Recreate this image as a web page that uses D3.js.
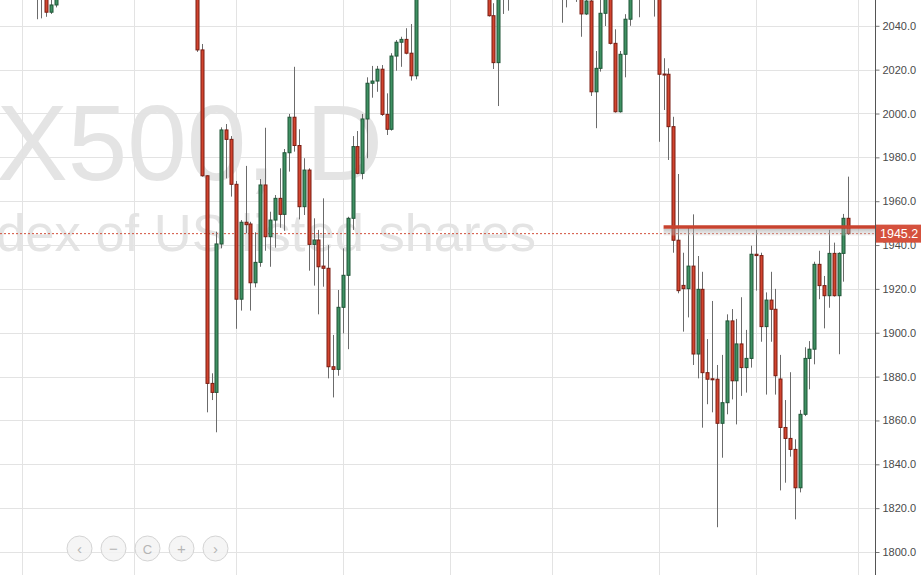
<!DOCTYPE html>
<html><head><meta charset="utf-8">
<script src="https://cdn.jsdelivr.net/npm/d3@7"></script>
<style>
html,body{margin:0;padding:0;background:#fff;}
svg{display:block;font-family:"Liberation Sans",Arial,sans-serif;}
</style></head>
<body><svg id="chart" width="921" height="575"></svg>
<script>
// ---- data (daily candles, index = trading-day slot) ----
const candleIndex = [3,4,5,6,7,36,37,38,39,40,41,42,43,44,45,46,47,48,49,50,51,52,53,54,55,56,57,58,59,60,61,62,63,64,65,66,67,68,69,70,71,72,73,74,75,76,77,78,79,80,81,96,97,98,99,100,111,112,114,115,116,117,118,119,120,121,122,123,124,125,127,130,131,132,133,134,135,136,137,138,139,140,141,142,143,144,145,146,147,148,149,150,151,152,153,154,155,156,157,158,159,160,161,162,163,164,165,166,167,168,169,170];
const openV  = [2062,2058,2057,2046.2,2049.5,2062,2029.0,1971.6,1876.9,1872.8,1940.5,1992.5,1988.2,1967.7,1915.3,1950.4,1949.6,1922.8,1932.1,1967.4,1943.8,1951.4,1961.3,1954.0,1982.1,1998.3,1985.4,1957.5,1974.2,1940.3,1942.3,1930.4,1929.4,1884.5,1883.3,1911.6,1926.2,1952.2,1984.9,1972.7,1997.5,2013.8,2014.8,2020.2,1999.6,1992.8,2026.2,2032.5,2033.8,2027.5,2017.2,2060,2044.6,2023.2,2062,2062,2060,2058,2060,2060,2045.4,2051.3,2009.9,2020.6,2045.7,2060,2032.0,2000.8,2027.0,2043.0,2060,2060,2058,2018.0,2017.9,1994.0,1942.2,1921.6,1920.1,1930.4,1890.3,1919.8,1881.8,1879.0,1878.8,1858.7,1868.1,1905.4,1878.1,1894.9,1884.1,1888.3,1935.8,1935.2,1902.8,1914.9,1910.7,1878.9,1856.8,1851.8,1846.8,1829.3,1862.8,1888.3,1892.5,1931.2,1921.5,1916.9,1936.2,1916.9,1936.2,1952.2];
const highV  = [2066,2064,2062,2054,2058,2068,2031.7,1971.8,1881.5,1946.1,1993.7,1995.2,1989.7,1969.2,1951.4,1976.1,1950.6,1945.8,1970.1,1993.5,1955.2,1962.8,1975.0,1983.8,1999.8,2021.3,1992.8,1979.6,1975.0,1952.2,1946.9,1961.3,1940.0,1899.0,1919.5,1938.5,1952.9,1989.7,1992.0,1999.8,2016.5,2021.7,2021.7,2022.1,2009.2,2027.5,2033.5,2035.0,2038.9,2040.8,2064,2066,2050.3,2066,2068,2068,2066,2066,2066,2064,2056,2056,2028.5,2053,2062,2065,2038.4,2028.5,2045.3,2060,2066,2066,2062,2025.2,2020.6,1998.5,1972.4,1936.5,1948.1,1954.0,1935.0,1927.8,1897.1,1914.5,1885.3,1889.9,1908.4,1910.8,1906.3,1916.2,1901.3,1939.7,1946.9,1936.5,1918.4,1927.8,1920.0,1889.9,1869.3,1882.0,1851.4,1864.8,1893.4,1896.2,1932.4,1937.4,1925.9,1946.9,1941.1,1936.7,1954.2,1971.2];
const lowV   = [2043.0,2043.4,2044.1,2045.4,2048.4,2028.1,1971.2,1863.7,1869.3,1854.6,1938.5,1970.4,1962.1,1901.8,1910.1,1945.4,1910.1,1920.7,1930.1,1937.4,1930.1,1938.8,1947.9,1946.5,1973.5,1982.6,1951.7,1953.7,1928.3,1921.5,1908.4,1921.0,1879.2,1870.5,1880.4,1899.7,1892.5,1946.9,1972.3,1970.0,1979.6,2007.2,2009.9,1998.9,1990.2,1992.2,2019.5,2021.3,2027.0,2015.0,2015.6,2044.2,2020.3,2003.4,2045.4,2046.9,2041.4,2048.4,2050.9,2035.0,2044.9,2008.0,1993.3,2019.1,2039.9,2031.5,2000.4,2000.4,2016.5,2040.0,2043.9,2044.2,1987.1,2001.6,1978.8,1936.5,1918.0,1900.5,1907.0,1885.3,1879.2,1856.7,1867.4,1863.7,1811.3,1843.0,1862.8,1869.6,1858.2,1871.2,1872.7,1884.1,1919.2,1895.9,1871.8,1895.9,1871.8,1828.1,1831.6,1843.5,1814.9,1827.2,1862.0,1874.2,1885.6,1915.3,1902.0,1911.4,1916.5,1890.2,1923.3,1944.6];
const closeV = [2057,2062,2046.2,2049.5,2056,2029.0,1971.6,1876.9,1872.8,1940.5,1992.5,1988.2,1967.7,1915.3,1950.4,1949.3,1922.8,1932.1,1967.4,1943.8,1951.4,1961.3,1954.0,1982.1,1998.3,1985.4,1957.5,1974.2,1940.3,1942.3,1930.1,1929.4,1884.5,1883.3,1911.6,1926.2,1952.2,1984.9,1972.7,1997.5,2013.8,2014.8,2020.2,1999.6,1992.8,2026.2,2032.5,2033.8,2027.5,2017.2,2060,2044.6,2023.2,2060,2058,2060,2056,2062,2056,2045.4,2051.3,2009.9,2020.6,2045.7,2058,2032.0,2000.8,2027.0,2043.0,2056,2056,2056,2017.9,2017.8,1994.0,1942.2,1919.2,1920.1,1930.4,1890.3,1919.8,1881.8,1878.8,1878.6,1858.7,1868.1,1905.4,1878.1,1894.9,1884.1,1888.3,1935.8,1935.2,1902.8,1914.9,1910.7,1880.4,1856.8,1851.8,1846.8,1829.3,1862.8,1888.3,1892.5,1931.2,1921.5,1916.9,1936.2,1916.9,1936.2,1952.2,1945.2];
const yTicks = [1800,1820,1840,1860,1880,1900,1920,1940,1960,1980,2000,2020,2040];
const monthStarts = [0,23,44,66,88,109,131,151,172];
const lastPrice = 1945.2;
const levelValue = 1948.2;
const levelStart = 132;
const titleText = "SPX500, D";
const descText = "Index of US listed shares";
const navIcons = ["\u2039","\u2212","C","+","\u203A"];

// ---- layout ----
const W = 921, H = 575, axisX = 875.5;
const svg = d3.select("#chart");
const x = d3.scaleLinear().domain([0,172]).range([22,858]);
const y = d3.scaleLinear().domain([1800,2040]).range([552,25.8]);

const candles = candleIndex.map((d,k)=>({i:d,o:openV[k],h:highV[k],l:lowV[k],c:closeV[k]}));

const defs = svg.append("defs");
defs.append("clipPath").attr("id","plot").append("rect").attr("x",0).attr("y",0).attr("width",axisX).attr("height",H);
const grad = defs.append("linearGradient").attr("id","shadow").attr("x1",0).attr("y1",0).attr("x2",0).attr("y2",1);
grad.append("stop").attr("offset","0%").attr("stop-color","#9a9a9a").attr("stop-opacity",0.6);
grad.append("stop").attr("offset","100%").attr("stop-color","#d0d0d0").attr("stop-opacity",0.25);

const plot = svg.append("g").attr("clip-path","url(#plot)");

// watermark
plot.append("text").attr("x",383).attr("y",180).attr("text-anchor","end")
  .attr("font-size",107).attr("fill","#e4e4e4").text(titleText);
plot.append("text").attr("x",536).attr("y",251).attr("text-anchor","end")
  .attr("font-size",52.5).attr("fill","#e4e4e4").text(descText);

// grid
plot.append("g").selectAll("line").data(yTicks).join("line")
  .attr("x1",0).attr("x2",axisX).attr("y1",d=>Math.round(y(d))+0.5).attr("y2",d=>Math.round(y(d))+0.5)
  .attr("stroke","#e3e3e3").attr("stroke-width",1);
plot.append("g").selectAll("line").data(monthStarts).join("line")
  .attr("x1",d=>Math.round(x(d))+0.5).attr("x2",d=>Math.round(x(d))+0.5).attr("y1",0).attr("y2",H)
  .attr("stroke","#e3e3e3").attr("stroke-width",1);

// last price dotted line
plot.append("line").attr("x1",0).attr("x2",axisX).attr("y1",y(lastPrice)).attr("y2",y(lastPrice))
  .attr("stroke","#d2503c").attr("stroke-width",1).attr("stroke-dasharray","2,2");

// candles
const cg = plot.append("g");
cg.selectAll("line.wick").data(candles).join("line").attr("class","wick")
  .attr("x1",d=>Math.round(x(d.i))+0.5).attr("x2",d=>Math.round(x(d.i))+0.5)
  .attr("y1",d=>y(d.h)).attr("y2",d=>y(d.l)).attr("stroke","#6b6b6b").attr("stroke-width",1);
cg.selectAll("rect.body").data(candles).join("rect").attr("class","body")
  .attr("x",d=>Math.round(x(d.i))-1)
  .attr("width",3)
  .attr("y",d=>y(Math.max(d.o,d.c)))
  .attr("height",d=>Math.max(1,y(Math.min(d.o,d.c))-y(Math.max(d.o,d.c))))
  .attr("fill",d=>d.c>=d.o?"#3f9163":"#d2442f")
  .attr("stroke",d=>d.c>=d.o?"#1f5537":"#7a1d12").attr("stroke-width",1);

// horizontal level line with shadow
const lx = x(levelStart), ly = y(levelValue);
svg.append("rect").attr("x",lx).attr("y",ly+1.5).attr("width",axisX-lx).attr("height",7).attr("fill","url(#shadow)");
svg.append("line").attr("x1",lx).attr("x2",886).attr("y1",ly).attr("y2",ly)
  .attr("stroke","#c8432f").attr("stroke-width",3.5);

// right axis
const ax = svg.append("g").attr("transform",`translate(${axisX},0)`)
  .call(d3.axisRight(y).tickValues(yTicks).tickFormat(d3.format(".1f")).tickSize(4).tickPadding(3));
ax.select(".domain").remove();
ax.selectAll(".tick line").attr("stroke","#777");
ax.selectAll(".tick text").attr("fill","#4a4a4a").attr("font-size",11).attr("font-family","'Liberation Sans',Arial,sans-serif");
svg.append("line").attr("x1",axisX).attr("x2",axisX).attr("y1",0).attr("y2",H).attr("stroke","#555").attr("stroke-width",1);

// price label
const py = y(lastPrice);
svg.append("rect").attr("x",876).attr("y",py-9).attr("width",45).attr("height",18).attr("fill","#d5513d");
svg.append("text").attr("x",880).attr("y",py+4.5).attr("fill","#fff").attr("font-size",12.5).text(d3.format(".1f")(lastPrice));

// navigation buttons
const nav = svg.append("g");
navIcons.forEach((t,k)=>{
  const cx = 79.5 + k*34, cy = 548.5;
  nav.append("circle").attr("cx",cx).attr("cy",cy).attr("r",12.5).attr("fill","#f3f3f3").attr("fill-opacity",0.85).attr("stroke","#d4d4d4");
  nav.append("text").attr("x",cx).attr("y",cy+5).attr("text-anchor","middle").attr("font-size",t==="C"?13:15).attr("fill","#b5b5b5").text(t);
});
</script></body></html>
